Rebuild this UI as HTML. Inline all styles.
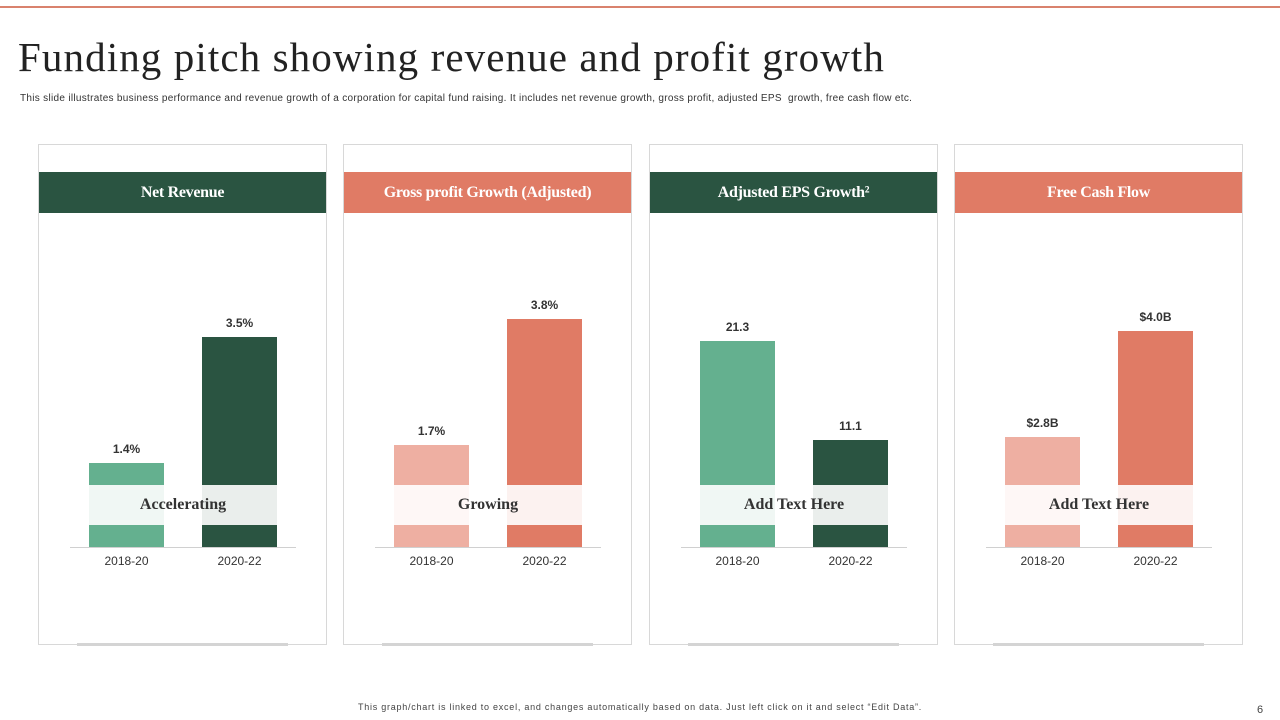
<!DOCTYPE html>
<html><head><meta charset="utf-8">
<style>
body{margin:0;width:1280px;height:720px;background:#fff;position:relative;overflow:hidden;font-family:"Liberation Sans",sans-serif;}
.abs{position:absolute}
.title{left:18px;top:33px;font-family:"Liberation Serif",serif;font-size:41px;letter-spacing:1.1px;color:#222;white-space:nowrap}
.sub{left:20px;top:93px;font-size:10px;letter-spacing:0.3px;color:#333;white-space:nowrap}
.panel{position:absolute;top:144px;width:289px;height:501px;border:1px solid #d8d8d8;box-sizing:border-box;background:#fff}
.hdr{position:absolute;left:0;top:27px;width:287px;height:41px;color:#fff;font-family:"Liberation Serif",serif;font-weight:bold;font-size:16px;text-align:center;line-height:41px;letter-spacing:-0.3px}
.shadow{position:absolute;left:38px;bottom:-2px;width:211px;height:3px;background:#d4d4d4}
</style></head><body>
<div class="abs" style="left:0;top:6px;width:1280px;height:2px;background:#d9826d"></div>
<div class="abs title">Funding pitch showing revenue and profit growth</div>
<div class="abs sub">This slide illustrates business performance and revenue growth of a corporation for capital fund raising. It includes net revenue growth, gross profit, adjusted EPS&nbsp; growth, free cash flow etc.</div>
<div id="charts"></div>
<div class="abs" style="left:358px;top:702px;font-size:9px;letter-spacing:0.75px;color:#444;white-space:nowrap">This graph/chart is linked to excel, and changes automatically based on data. Just left click on it and select “Edit Data”.</div>
<div class="abs" style="left:1257px;top:704px;font-size:11px;color:#444">6</div>
<script>
const panelTitles=["Net Revenue","Gross profit Growth (Adjusted)","Adjusted EPS Growth²","Free Cash Flow"];
const categories=["2018-20","2020-22"];
const values=[[1.4,3.5],[1.7,3.8],[21.3,11.1],[2.8,4.0]];
const valueLabels=[["1.4%","3.5%"],["1.7%","3.8%"],["21.3","11.1"],["$2.8B","$4.0B"]];
const bandTexts=["Accelerating","Growing","Add Text Here","Add Text Here"];
const domainMin=[0,0,0,1.55];
const pxPerUnit=[60,60,9.67,88];
const headerColors=["#2a5441","#e07b65","#2a5441","#e07b65"];
const barColors=[["#64b08f","#2a5441"],["#eeafa2","#e07b65"],["#64b08f","#2a5441"],["#eeafa2","#e07b65"]];
const panelX=[38,343,649,954];
const root=document.getElementById('charts');
const baseY=402;
function yScale(p,v){return (v-domainMin[p])*pxPerUnit[p];}
panelTitles.forEach((t,p)=>{
  const pan=document.createElement('div');pan.className='panel';pan.style.left=panelX[p]+'px';
  
  
  const h=document.createElement('div');h.className='hdr';h.style.background=headerColors[p];h.textContent=t;
  
  
  pan.appendChild(h);
  const ax=document.createElement('div');ax.style.cssText='position:absolute;left:31px;top:'+baseY+'px;width:226px;height:1px;background:#d0d0d0';
  
  
  pan.appendChild(ax);
  categories.forEach((c,i)=>{
    const bx=50+i*113, hh=yScale(p,values[p][i]);
    const b=document.createElement('div');
    b.style.cssText=`position:absolute;left:${bx}px;top:${baseY-hh}px;width:75px;height:${hh}px;background:${barColors[p][i]}`;
    
    
    pan.appendChild(b);
    const l=document.createElement('div');
    l.style.cssText=`position:absolute;left:${bx-20}px;width:115px;text-align:center;top:${baseY-hh-21}px;font-size:12px;font-weight:bold;color:#333`;
    l.textContent=valueLabels[p][i];
    
    
    pan.appendChild(l);
    const x=document.createElement('div');
    x.style.cssText=`position:absolute;left:${bx-20}px;width:115px;text-align:center;top:${baseY+7}px;font-size:12px;color:#333`;
    x.textContent=c;
    
    
    pan.appendChild(x);
  });
  const band=document.createElement('div');
  band.style.cssText='position:absolute;left:50px;top:340px;width:188px;height:40px;background:rgba(255,255,255,0.9);text-align:center;line-height:40px;font-family:"Liberation Serif",serif;font-weight:bold;font-size:16px;color:#333';
  band.textContent=bandTexts[p];
  
  
  pan.appendChild(band);
  const s=document.createElement('div');s.className='shadow';
  
  
  pan.appendChild(s);
  root.appendChild(pan);
});
</script>
</body></html>
